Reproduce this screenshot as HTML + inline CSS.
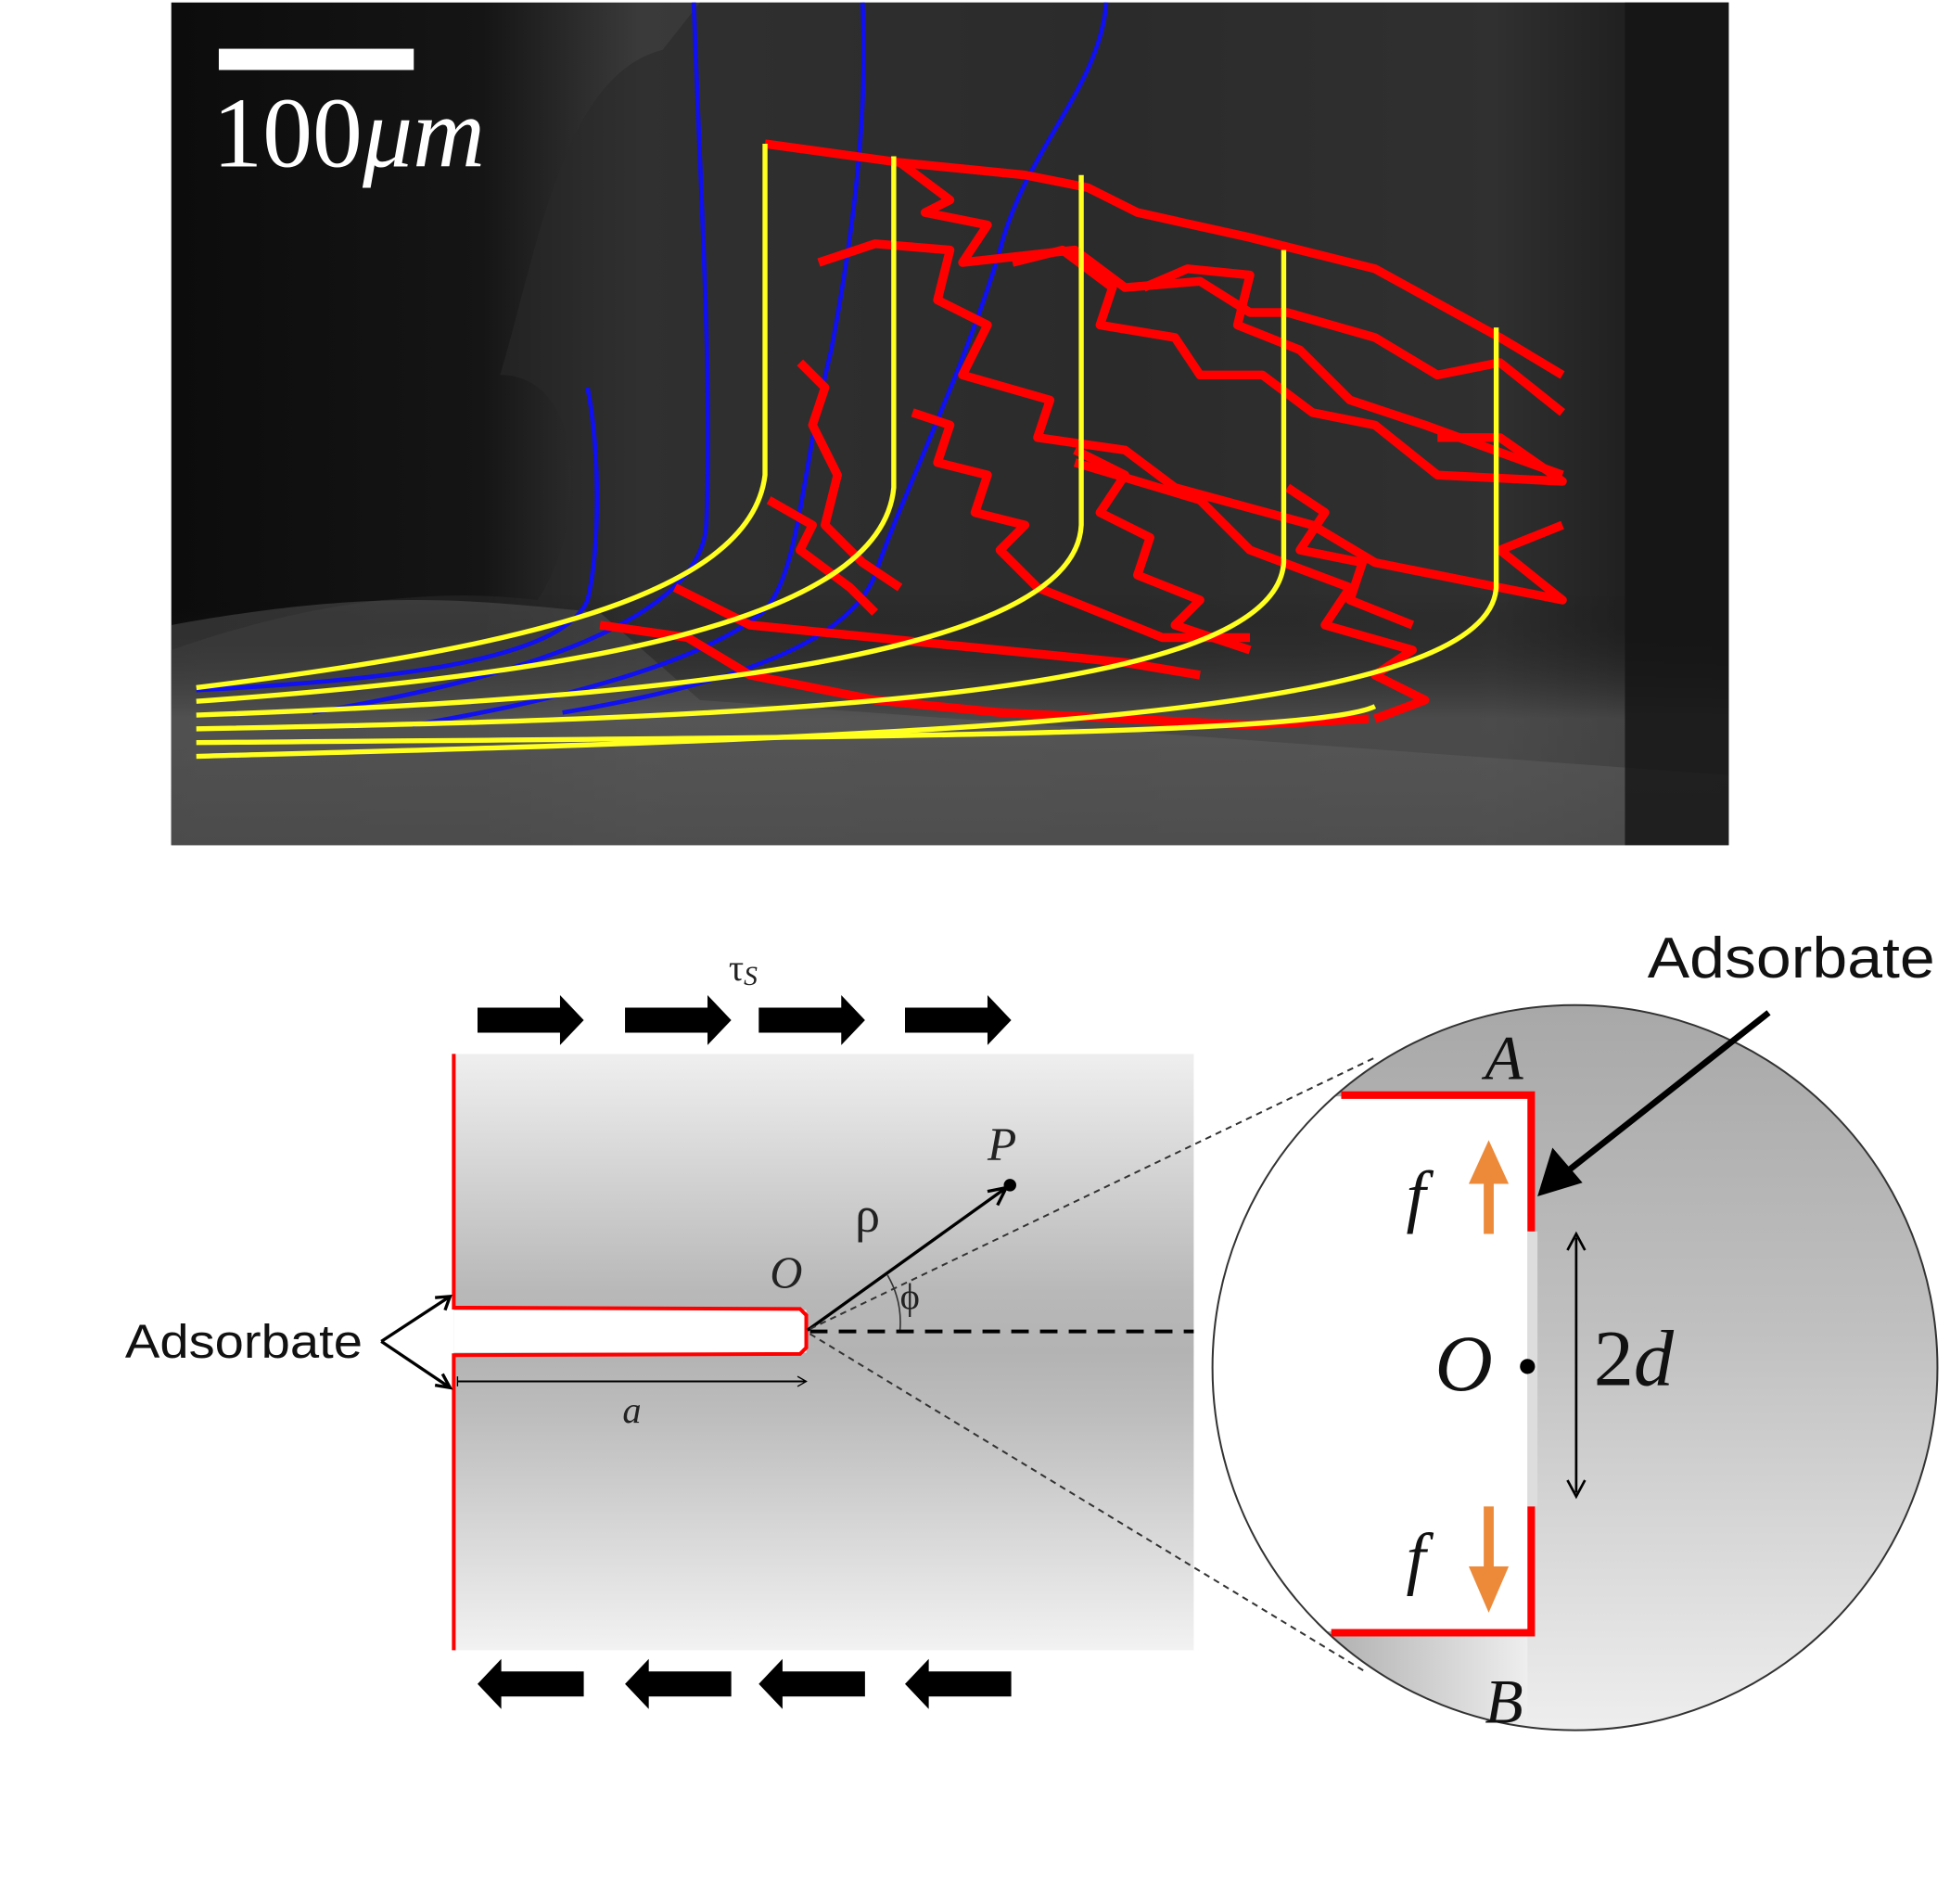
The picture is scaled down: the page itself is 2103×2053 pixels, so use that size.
<!DOCTYPE html>
<html><head><meta charset="utf-8"><style>
html,body{margin:0;padding:0;background:#fff;}
svg{display:block}
text{font-family:"Liberation Serif",serif}
.s{font-family:"Liberation Sans",sans-serif}
</style></head><body>
<svg width="2103" height="2053" viewBox="0 0 1560 1523" xmlns="http://www.w3.org/2000/svg">
<defs>
<linearGradient id="pb" x1="0" y1="0" x2="1" y2="0">
<stop offset="0" stop-color="#0c0c0c"/><stop offset="0.2" stop-color="#151515"/><stop offset="0.3" stop-color="#3a3a3a"/><stop offset="0.6" stop-color="#2e2e2e"/><stop offset="0.85" stop-color="#3a3a3a"/><stop offset="0.93" stop-color="#151515"/><stop offset="1" stop-color="#111"/>
</linearGradient>
<linearGradient id="pv" x1="0" y1="0" x2="0" y2="1">
<stop offset="0" stop-color="#000" stop-opacity="0"/><stop offset="0.7" stop-color="#000" stop-opacity="0"/><stop offset="0.85" stop-color="#666" stop-opacity="0.5"/><stop offset="1" stop-color="#555" stop-opacity="0.6"/>
</linearGradient>
<linearGradient id="rg" x1="0" y1="0" x2="0" y2="1">
<stop offset="0" stop-color="#efefef"/><stop offset="0.4" stop-color="#b8b8b8"/><stop offset="0.5" stop-color="#b3b3b3"/><stop offset="0.6" stop-color="#bcbcbc"/><stop offset="1" stop-color="#f2f2f2"/>
</linearGradient>
<linearGradient id="cg" x1="0" y1="0" x2="0" y2="1">
<stop offset="0" stop-color="#a8a8a8"/><stop offset="0.45" stop-color="#c0c0c0"/><stop offset="1" stop-color="#eeeeee"/>
</linearGradient>
<linearGradient id="bl" x1="0" y1="0" x2="1" y2="0">
<stop offset="0" stop-color="#888"/><stop offset="1" stop-color="#eee"/>
</linearGradient>
<clipPath id="cc"><circle cx="1260" cy="1094" r="290"/></clipPath>
</defs>

<rect x="137" y="2" width="1246" height="674" fill="url(#pb)"/>
<path d="M137,676 L137,520 C250,480 350,470 430,480 C470,420 470,300 400,300 C430,200 450,60 530,40 L560,2 L1383,2 L1383,676 Z" fill="#2a2a2a" opacity="0.6"/>
<path d="M137,676 L137,500 C300,470 380,480 480,490 L560,560 L1383,620 L1383,676 Z" fill="#5a5a5a" opacity="0.5"/>
<rect x="137" y="2" width="1246" height="674" fill="url(#pv)"/>
<rect x="1300" y="2" width="83" height="674" fill="#141414" opacity="0.8"/>

<rect x="175" y="39" width="156" height="17" fill="#fff"/>
<text x="170" y="133" font-size="80" fill="#fff">100<tspan font-style="italic">μm</tspan></text>

<g fill="none" stroke="#1010f0" stroke-width="3.5">
<path d="M470,310 C480,360 480,440 470,480 C450,530 300,545 157,552"/>
<path d="M555,2 C560,150 570,300 565,420 C560,500 400,545 250,570"/>
<path d="M690,2 C695,100 680,200 665,280 C640,380 640,460 610,490 C560,530 450,560 330,580"/>
<path d="M885,2 C880,70 820,120 800,200 C770,300 720,400 700,460 C680,510 600,545 450,570"/>
</g>

<g fill="none" stroke="#ff0000" stroke-width="7" stroke-linejoin="round">
<path d="M612,115 L720,130 L820,140 L870,150 L910,170 L1000,190 L1100,215 L1200,270 L1250,300"/>
<path d="M720,130 L760,160 L740,170 L790,180 L770,210 L860,200 L900,230 L960,225 L1000,250 L1030,250 L1100,270 L1150,300 L1200,290 L1250,330"/>
<path d="M655,210 L700,195 L760,200 L750,240 L790,260 L770,300 L840,320 L830,350 L900,360 L940,390 L1050,420 L1100,450 L1250,480 L1200,440 L1250,420"/>
<path d="M810,210 L850,200 L890,230 L880,260 L940,270 L960,300 L1010,300 L1050,330 L1100,340 L1150,380 L1250,385 L1200,350 L1150,350"/>
<path d="M915,230 L950,215 L1000,220 L990,260 L1040,280 L1080,320 L1140,340 L1250,380"/>
<path d="M640,290 L660,310 L650,340 L670,380 L660,420 L690,450 L720,470"/>
<path d="M615,400 L650,420 L640,440 L680,470 L700,490"/>
<path d="M730,330 L760,340 L750,370 L790,380 L780,410 L820,420 L800,440 L830,470 L880,490 L930,510 L1000,510"/>
<path d="M860,360 L900,380 L880,410 L920,430 L910,460 L960,480 L940,500 L1000,520"/>
<path d="M860,370 L960,400 L1000,440 L1080,470 L1060,500 L1130,520 L1100,540 L1140,560 L1100,575"/>
<path d="M1030,390 L1060,410 L1040,440 L1090,450 L1080,480 L1130,500"/>
<path d="M480,500 L550,510 L600,540 L700,560 L800,570 L900,575 L1000,580 L1095,575"/>
<path d="M540,470 L600,500 L700,510 L800,520 L900,530 L960,540"/>
</g>

<g fill="none" stroke="#ffff20" stroke-width="4">
<path d="M157,550 C400,520 600,480 612,380 L612,115"/>
<path d="M157,561 C450,540 705,500 715,390 L715,125"/>
<path d="M157,572 C500,560 860,530 865,420 L865,140"/>
<path d="M157,583 C600,575 1020,560 1027,450 L1027,200"/>
<path d="M157,594 C600,590 1050,590 1100,565"/>
<path d="M157,605 C700,590 1190,580 1197,470 L1197,262"/>
</g>

<rect x="363" y="843" width="592" height="477" fill="url(#rg)"/>
<rect x="363" y="1048" width="282" height="34" fill="#fff"/>
<g fill="none" stroke="#f00" stroke-width="3">
<path d="M363,843 L363,1046 L640,1047 L645,1052 L645,1078 L640,1083 L363,1084 L363,1320"/>
</g>
<text x="583" y="784" font-size="30" fill="#222">τ<tspan font-size="22" font-style="italic" dy="4">S</tspan></text>
<g fill="#000">
<path d="M382,806 L448,806 L448,796 L467,816 L448,836 L448,826 L382,826 Z"/>
<path d="M500,806 L566,806 L566,796 L585,816 L566,836 L566,826 L500,826 Z"/>
<path d="M607,806 L673,806 L673,796 L692,816 L673,836 L673,826 L607,826 Z"/>
<path d="M724,806 L790,806 L790,796 L809,816 L790,836 L790,826 L724,826 Z"/>
<path d="M467,1337 L401,1337 L401,1327 L382,1347 L401,1367 L401,1357 L467,1357 Z"/>
<path d="M585,1337 L519,1337 L519,1327 L500,1347 L519,1367 L519,1357 L585,1357 Z"/>
<path d="M692,1337 L626,1337 L626,1327 L607,1347 L626,1367 L626,1357 L692,1357 Z"/>
<path d="M809,1337 L743,1337 L743,1327 L724,1347 L743,1367 L743,1357 L809,1357 Z"/>
</g>
<text class="s" x="100" y="1086" font-size="38" fill="#111" textLength="190" lengthAdjust="spacingAndGlyphs">Adsorbate</text>
<g stroke="#000" stroke-width="2.5" fill="none">
<path d="M305,1073 L360,1037"/><path d="M305,1073 L360,1110"/>
<path d="M348,1038 L360,1037 L356,1048"/><path d="M348,1108 L360,1110 L354,1099"/>
</g>
<line x1="366" y1="1105" x2="645" y2="1105" stroke="#000" stroke-width="1.5"/>
<path d="M366,1101 L366,1109 M638,1101 L645,1105 L638,1109" stroke="#000" fill="none"/>
<text x="498" y="1138" font-size="30" font-style="italic" fill="#222">a</text>
<text x="616" y="1030" font-size="36" font-style="italic" fill="#222">O</text>
<line x1="646" y1="1064" x2="805" y2="950" stroke="#000" stroke-width="2.5"/>
<path d="M790,953 L805,950 L798,964" fill="none" stroke="#000" stroke-width="2.5"/>
<circle cx="808" cy="948" r="5" fill="#000"/>
<text x="790" y="928" font-size="38" font-style="italic" fill="#222">P</text>
<text x="684" y="985" font-size="40" fill="#222">ρ</text>
<text x="720" y="1047" font-size="30" fill="#222">ϕ</text>
<path d="M710,1020 A75,75 0 0 1 720,1064" fill="none" stroke="#333" stroke-width="1.2"/>
<line x1="648" y1="1065" x2="955" y2="1065" stroke="#000" stroke-width="3" stroke-dasharray="14,9"/>
<g stroke="#333" stroke-width="1.5" stroke-dasharray="5,4">
<line x1="648" y1="1063" x2="1102" y2="845"/>
<line x1="648" y1="1067" x2="1092" y2="1337"/>
</g>

<circle cx="1260" cy="1094" r="290" fill="url(#cg)"/>
<g clip-path="url(#cc)">
<rect x="960" y="877" width="262" height="428" fill="#fff"/>
<rect x="1222" y="985" width="8" height="220" fill="#ddd"/>
<rect x="960" y="1305" width="262" height="100" fill="url(#bl)"/>
</g>
<circle cx="1260" cy="1094" r="290" fill="none" stroke="#333" stroke-width="1.5"/>
<g stroke="#f00" stroke-width="6" fill="none">
<path d="M1073,876 L1225,876 L1225,985"/>
<path d="M1225,1205 L1225,1306 L1065,1306"/>
</g>
<text x="1188" y="863" font-size="50" font-style="italic" fill="#111">A</text>
<text x="1188" y="1378" font-size="50" font-style="italic" fill="#111">B</text>
<text x="1125" y="975" font-size="56" font-style="italic" fill="#111">f</text>
<text x="1125" y="1265" font-size="56" font-style="italic" fill="#111">f</text>
<g fill="#ec8a3a">
<rect x="1187" y="945" width="8" height="42"/><path d="M1175,947 L1191,912 L1207,947 Z"/>
<rect x="1187" y="1205" width="8" height="50"/><path d="M1175,1253 L1191,1290 L1207,1253 Z"/>
</g>
<text x="1148" y="1112" font-size="64" font-style="italic" fill="#111">O</text>
<circle cx="1222" cy="1093" r="6" fill="#000"/>
<text x="1275" y="1108" font-size="64" fill="#111">2<tspan font-style="italic">d</tspan></text>
<line x1="1261" y1="990" x2="1261" y2="1194" stroke="#000" stroke-width="2"/>
<path d="M1254,1000 L1261,987 L1268,1000 M1254,1184 L1261,1197 L1268,1184" fill="none" stroke="#000" stroke-width="2"/>
<text class="s" x="1318" y="782" font-size="46" fill="#111" textLength="230" lengthAdjust="spacingAndGlyphs">Adsorbate</text>
<line x1="1415" y1="810" x2="1250" y2="940" stroke="#000" stroke-width="5"/>
<path d="M1230,957 L1242,918 L1266,946 Z" fill="#000"/>
</svg>
</body></html>
